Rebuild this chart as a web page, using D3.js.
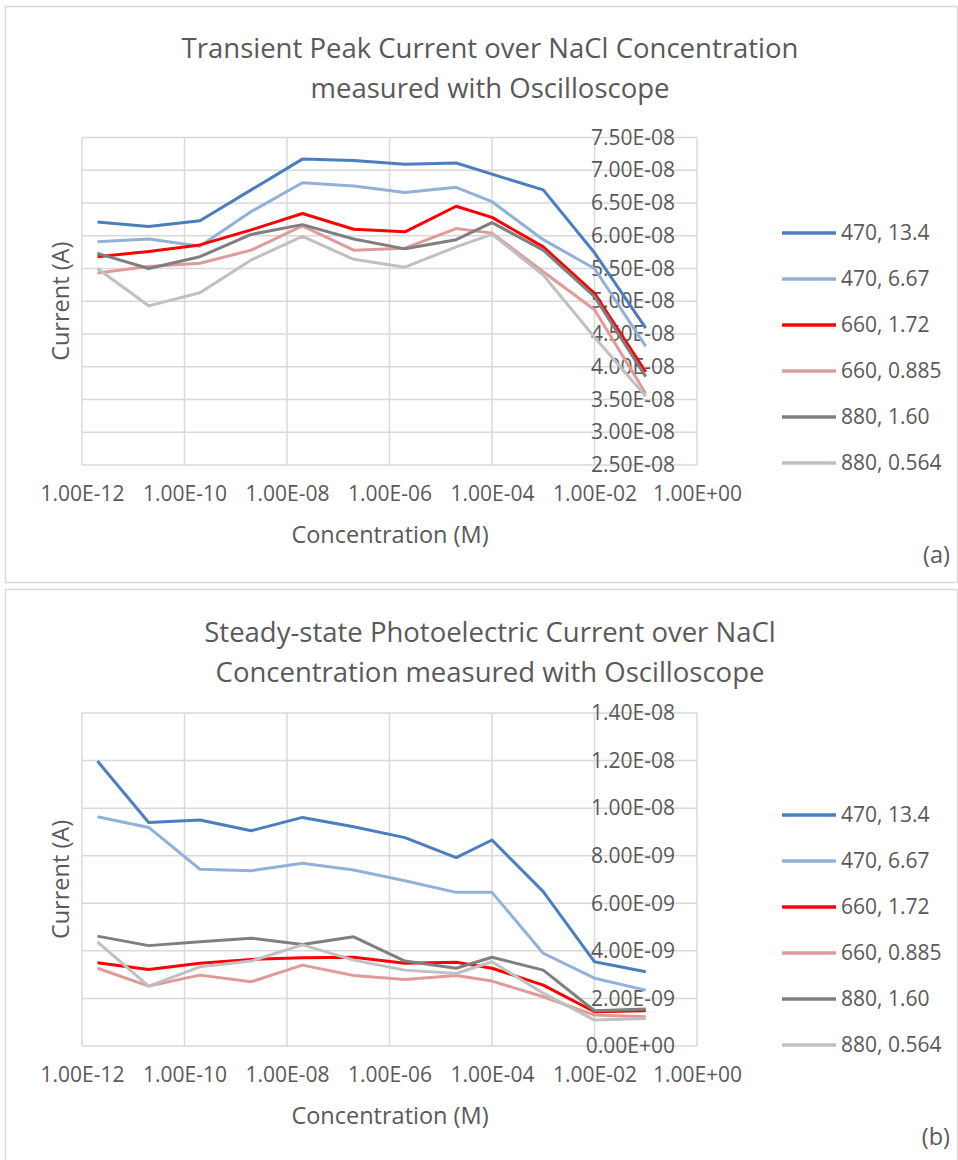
<!DOCTYPE html>
<html>
<head>
<meta charset="utf-8">
<script src="https://cdn.jsdelivr.net/npm/d3@7/dist/d3.min.js"></script>
<style>
  body { margin: 0; background: #fff; }
  text { font-family: "Open Sans", "Noto Sans", sans-serif; fill: #595959; }
</style>
</head>
<body>
<svg id="chart" width="958" height="1160"></svg>
<script>
// NaCl concentration (M) for each measurement
const concentrations = [2e-12, 2e-11, 2e-10, 2e-9, 2e-8, 2e-7, 2e-6, 2e-5, 1e-4, 1e-3, 1e-2, 1e-1];
const xTicks = [1e-12, 1e-10, 1e-8, 1e-6, 1e-4, 1e-2, 1e0];

const seriesNames = ['470, 13.4', '470, 6.67', '660, 1.72', '660, 0.885', '880, 1.60', '880, 0.564'];
const seriesColors = ['#4a7ebf', '#92b1da', '#ff0000', '#e09a9a', '#7f7f7f', '#c0c0c0'];

// (a) transient peak current (A)
const peak470_134 = [6.21e-8, 6.14e-8, 6.23e-8, 6.70e-8, 7.17e-8, 7.15e-8, 7.09e-8, 7.11e-8, 6.94e-8, 6.70e-8, 5.74e-8, 4.59e-8];
const peak470_667 = [5.91e-8, 5.95e-8, 5.84e-8, 6.37e-8, 6.81e-8, 6.76e-8, 6.66e-8, 6.74e-8, 6.52e-8, 5.94e-8, 5.50e-8, 4.31e-8];
const peak660_172 = [5.68e-8, 5.76e-8, 5.86e-8, 6.09e-8, 6.34e-8, 6.10e-8, 6.06e-8, 6.45e-8, 6.28e-8, 5.83e-8, 5.12e-8, 3.92e-8];
const peak660_0885 = [5.43e-8, 5.53e-8, 5.58e-8, 5.78e-8, 6.15e-8, 5.78e-8, 5.81e-8, 6.11e-8, 6.04e-8, 5.45e-8, 4.87e-8, 3.59e-8];
const peak880_160 = [5.73e-8, 5.50e-8, 5.68e-8, 6.02e-8, 6.17e-8, 5.95e-8, 5.80e-8, 5.94e-8, 6.20e-8, 5.78e-8, 5.07e-8, 3.85e-8];
const peak880_0564 = [5.50e-8, 4.93e-8, 5.13e-8, 5.63e-8, 5.99e-8, 5.64e-8, 5.52e-8, 5.83e-8, 6.02e-8, 5.40e-8, 4.45e-8, 3.55e-8];
const peakTicks = [2.5e-8, 3e-8, 3.5e-8, 4e-8, 4.5e-8, 5e-8, 5.5e-8, 6e-8, 6.5e-8, 7e-8, 7.5e-8];

// (b) steady-state photoelectric current (A)
const steady470_134 = [1.198e-8, 9.40e-9, 9.50e-9, 9.05e-9, 9.61e-9, 9.22e-9, 8.76e-9, 7.92e-9, 8.66e-9, 6.49e-9, 3.54e-9, 3.12e-9];
const steady470_667 = [9.64e-9, 9.19e-9, 7.43e-9, 7.37e-9, 7.68e-9, 7.40e-9, 6.95e-9, 6.46e-9, 6.46e-9, 3.90e-9, 2.85e-9, 2.35e-9];
const steady660_172 = [3.50e-9, 3.22e-9, 3.48e-9, 3.64e-9, 3.71e-9, 3.73e-9, 3.48e-9, 3.52e-9, 3.27e-9, 2.56e-9, 1.44e-9, 1.48e-9];
const steady660_0885 = [3.27e-9, 2.52e-9, 2.98e-9, 2.70e-9, 3.40e-9, 2.96e-9, 2.80e-9, 2.96e-9, 2.73e-9, 2.07e-9, 1.30e-9, 1.23e-9];
const steady880_160 = [4.62e-9, 4.22e-9, 4.38e-9, 4.53e-9, 4.27e-9, 4.59e-9, 3.57e-9, 3.27e-9, 3.73e-9, 3.19e-9, 1.48e-9, 1.56e-9];
const steady880_0564 = [4.38e-9, 2.52e-9, 3.33e-9, 3.57e-9, 4.25e-9, 3.61e-9, 3.19e-9, 3.05e-9, 3.54e-9, 2.22e-9, 1.09e-9, 1.16e-9];
const steadyTicks = [0, 2e-9, 4e-9, 6e-9, 8e-9, 1e-8, 1.2e-8, 1.4e-8];

const panels = [
    {
        box: [5.5, 6.5, 952, 576],
        title: ['Transient Peak Current over NaCl Concentration', 'measured with Oscilloscope'],
        titleY: 48,
        series: [peak470_134, peak470_667, peak660_172, peak660_0885, peak880_160, peak880_0564],
        yDomain: [2.5e-8, 7.5e-8], yRange: [465, 137.5], yTicks: peakTicks,
        legendY: 233, tag: '(a)'
    },
    {
        box: [5.5, 589.5, 952, 575],
        title: ['Steady-state Photoelectric Current over NaCl', 'Concentration measured with Oscilloscope'],
        titleY: 632,
        series: [steady470_134, steady470_667, steady660_172, steady660_0885, steady880_160, steady880_0564],
        yDomain: [0, 1.4e-8], yRange: [1046, 713], yTicks: steadyTicks,
        legendY: 815, tag: '(b)'
    }
];

// Excel style 0.00E+00
function fmtE(v) {
    const [m, e] = v.toExponential(2).split('e');
    const n = +e;
    return m + 'E' + (n < 0 ? '-' : '+') + String(Math.abs(n)).padStart(2, '0');
}

const svg = d3.select('#chart');
const x = d3.scaleLog().domain([1e-12, 1]).range([82, 697]);

panels.forEach(p => {
    const g = svg.append('g');
    const y = d3.scaleLinear().domain(p.yDomain).range(p.yRange);
    const top = p.yRange[1], bottom = p.yRange[0];

    g.append('rect')
        .attr('x', p.box[0]).attr('y', p.box[1])
        .attr('width', p.box[2]).attr('height', p.box[3])
        .attr('fill', 'none').attr('stroke', '#d9d9d9').attr('stroke-width', 1.5);

    // gridlines
    g.append('g')
        .selectAll('line.h')
        .data(p.yTicks)
        .join('line')
        .attr('x1', x.range()[0]).attr('x2', x.range()[1])
        .attr('y1', d => y(d)).attr('y2', d => y(d))
        .attr('stroke', '#d9d9d9').attr('stroke-width', 1.5);

    g.append('g')
        .selectAll('line.v')
        .data(xTicks)
        .join('line')
        .attr('x1', d => x(d)).attr('x2', d => x(d))
        .attr('y1', top).attr('y2', bottom)
        .attr('stroke', '#d9d9d9').attr('stroke-width', 1.5);

    // x axis labels
    const xAxis = g.append('g')
        .attr('transform', `translate(0,${bottom})`)
        .call(d3.axisBottom(x).tickValues(xTicks).tickFormat(fmtE).tickSize(0).tickPadding(21));
    xAxis.select('.domain').remove();
    xAxis.selectAll('text').attr('font-size', 21).style('fill', '#595959')
        .attr('font-family', '"Open Sans", sans-serif');

    // y axis labels, placed near the right side like the original
    const yAxis = g.append('g')
        .attr('transform', 'translate(679,0)')
        .call(d3.axisLeft(y).tickValues(p.yTicks).tickFormat(fmtE).tickSize(0).tickPadding(4));
    yAxis.select('.domain').remove();
    yAxis.selectAll('text').attr('font-size', 21).style('fill', '#595959')
        .attr('font-family', '"Open Sans", sans-serif');

    // series lines
    const line = d3.line()
        .x((d, i) => x(concentrations[i]))
        .y(d => y(d));

    g.append('g')
        .selectAll('path')
        .data(p.series)
        .join('path')
        .attr('d', d => line(d))
        .attr('fill', 'none')
        .attr('stroke', (d, i) => seriesColors[i])
        .attr('stroke-width', 3)
        .attr('stroke-linejoin', 'round');

    // title
    g.append('text')
        .attr('x', 490).attr('y', p.titleY)
        .attr('text-anchor', 'middle')
        .attr('font-size', 27.5)
        .selectAll('tspan')
        .data(p.title)
        .join('tspan')
        .attr('x', 490)
        .attr('dy', (d, i) => i === 0 ? '0.35em' : '1.45em')
        .text(d => d);

    // axis titles
    g.append('text')
        .attr('x', 390).attr('y', bottom + 70)
        .attr('text-anchor', 'middle')
        .attr('dy', '0.35em')
        .attr('font-size', 23.5)
        .text('Concentration (M)');

    g.append('text')
        .attr('transform', `translate(61,${(top + bottom) / 2}) rotate(-90)`)
        .attr('text-anchor', 'middle')
        .attr('dy', '0.35em')
        .attr('font-size', 23.5)
        .text('Current (A)');

    // legend
    const legend = g.append('g')
        .selectAll('g')
        .data(seriesNames)
        .join('g')
        .attr('transform', (d, i) => `translate(782,${p.legendY + i * 46})`);

    legend.append('line')
        .attr('x1', 0).attr('x2', 54)
        .attr('stroke', (d, i) => seriesColors[i])
        .attr('stroke-width', 3.5);

    legend.append('text')
        .attr('x', 59)
        .attr('dy', '0.35em')
        .attr('font-size', 21)
        .text(d => d);

    g.append('text')
        .attr('x', 950).attr('y', p.box[1] + p.box[3] - 28)
        .attr('text-anchor', 'end')
        .attr('dy', '0.35em')
        .attr('font-size', 23.5)
        .text(p.tag);
});
</script>
</body>
</html>
